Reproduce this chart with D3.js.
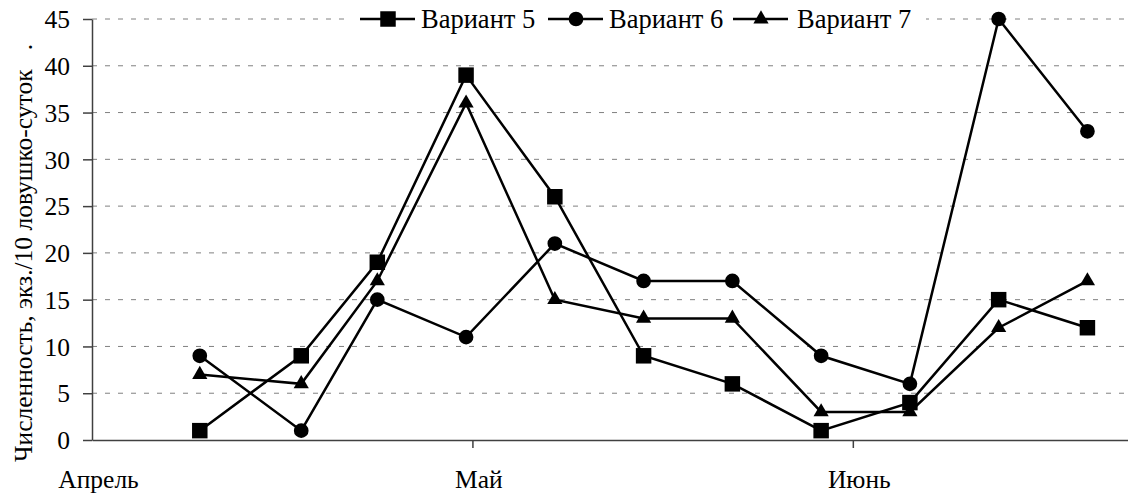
<!DOCTYPE html>
<html>
<head>
<meta charset="utf-8">
<script src="https://cdn.jsdelivr.net/npm/d3@7"></script>
<style>
  body { margin: 0; background: #fff; }
  svg { display: block; }
</style>
</head>
<body>
<svg id="chart" width="1128" height="495" font-family="Liberation Serif"></svg>
<script>
// days counted from the start of April
var days = [8.5, 16.5, 22.5, 29.5, 36.5, 43.5, 50.5, 57.5, 64.5, 71.5, 78.5];
var v5 = [1, 9, 19, 39, 26, 9, 6, 1, 4, 15, 12];
var v6 = [9, 1, 15, 11, 21, 17, 17, 9, 6, 45, 33];
var v7 = [7, 6, 17, 36, 15, 13, 13, 3, 3, 12, 17];
var monthTicks = [0, 30, 60];
var monthNames = ["Апрель", "Май", "Июнь"];
var yTicks = [0, 5, 10, 15, 20, 25, 30, 35, 40, 45];

var series = [
  { name: "Вариант 5", values: v5, symbol: d3.symbolSquare, size: 240 },
  { name: "Вариант 6", values: v6, symbol: d3.symbolCircle, size: 170 },
  { name: "Вариант 7", values: v7, symbol: d3.symbolTriangle, size: 100 },
];

var svg = d3.select("#chart");
var mLeft = 92, mRight = 1128, mTop = 19, mBottom = 440;
var fs = 25.5;
var serif = "Liberation Serif";

var x = d3.scaleLinear().domain([0, 81.7]).range([mLeft, mRight]);
var y = d3.scaleLinear().domain([0, 45]).range([mBottom, mTop]);

// gridlines
svg.append("g")
  .selectAll("line")
  .data(yTicks.filter((d) => d > 0))
  .enter()
  .append("line")
  .attr("x1", mLeft)
  .attr("x2", mRight)
  .attr("y1", (d) => y(d))
  .attr("y2", (d) => y(d))
  .attr("stroke", "#808080")
  .attr("stroke-width", 1)
  .attr("stroke-dasharray", "5,8");

// y axis
var yAxis = svg.append("g")
  .attr("transform", "translate(" + mLeft + ",0)")
  .call(d3.axisLeft(y).tickValues(yTicks).tickSize(9).tickSizeOuter(0).tickPadding(13));
yAxis.select(".domain").attr("stroke", "#404040").attr("stroke-width", 1.5);
yAxis.selectAll(".tick line").attr("stroke", "#404040").attr("stroke-width", 1.5);
yAxis.selectAll("text")
  .attr("font-family", serif)
  .attr("font-size", fs)
  .attr("fill", "#000")
  .attr("dy", "0.34em");

// x axis
var xAxis = svg.append("g")
  .attr("transform", "translate(0," + mBottom + ")")
  .call(d3.axisBottom(x).tickValues(monthTicks).tickSize(8).tickSizeOuter(0).tickFormat((d, i) => monthNames[i]));
xAxis.select(".domain").attr("stroke", "#404040").attr("stroke-width", 1.5);
xAxis.selectAll(".tick line").attr("stroke", "#404040").attr("stroke-width", 1.5);
xAxis.selectAll(".tick").filter((d) => d === 0).select("line").remove();
xAxis.selectAll("text")
  .attr("font-family", serif)
  .attr("font-size", fs)
  .attr("fill", "#000")
  .attr("x", 6)
  .attr("y", 0)
  .attr("dy", 48);

// y axis title
svg.append("text")
  .attr("transform", "translate(32,253) rotate(-90)")
  .attr("text-anchor", "middle")
  .attr("font-family", serif)
  .attr("font-size", fs)
  .style("white-space", "pre")
  .text("Численность, экз./10 ловушко-суток   .");

// lines and markers
var line = d3.line()
  .x((d, i) => x(days[i]))
  .y((d) => y(d));

series.forEach(function (s) {
  svg.append("path")
    .datum(s.values)
    .attr("fill", "none")
    .attr("stroke", "#000")
    .attr("stroke-width", 2.5)
    .attr("d", line);

  svg.append("g")
    .selectAll("path")
    .data(s.values)
    .enter()
    .append("path")
    .attr("transform", (d, i) => "translate(" + x(days[i]) + "," + y(d) + ")")
    .attr("d", d3.symbol().type(s.symbol).size(s.size))
    .attr("fill", "#000");
});

// legend
var legendX = [360, 548, 733];
svg.append("rect")
  .attr("x", 352)
  .attr("y", 2)
  .attr("width", 574)
  .attr("height", 34)
  .attr("fill", "#fff");

var lg = svg.append("g")
  .selectAll("g")
  .data(series)
  .enter()
  .append("g")
  .attr("transform", (d, i) => "translate(" + legendX[i] + "," + mTop + ")");

lg.append("line")
  .attr("x1", 0)
  .attr("x2", 55)
  .attr("stroke", "#000")
  .attr("stroke-width", 2.5);
lg.append("path")
  .attr("transform", "translate(28,0)")
  .attr("d", (d) => d3.symbol().type(d.symbol).size(d.size)())
  .attr("fill", "#000");
lg.append("text")
  .attr("x", (d, i) => (i === 2 ? 64 : 61))
  .attr("dy", "0.34em")
  .attr("font-family", serif)
  .attr("font-size", 26.5)
  .text((d) => d.name);
</script>
</body>
</html>
